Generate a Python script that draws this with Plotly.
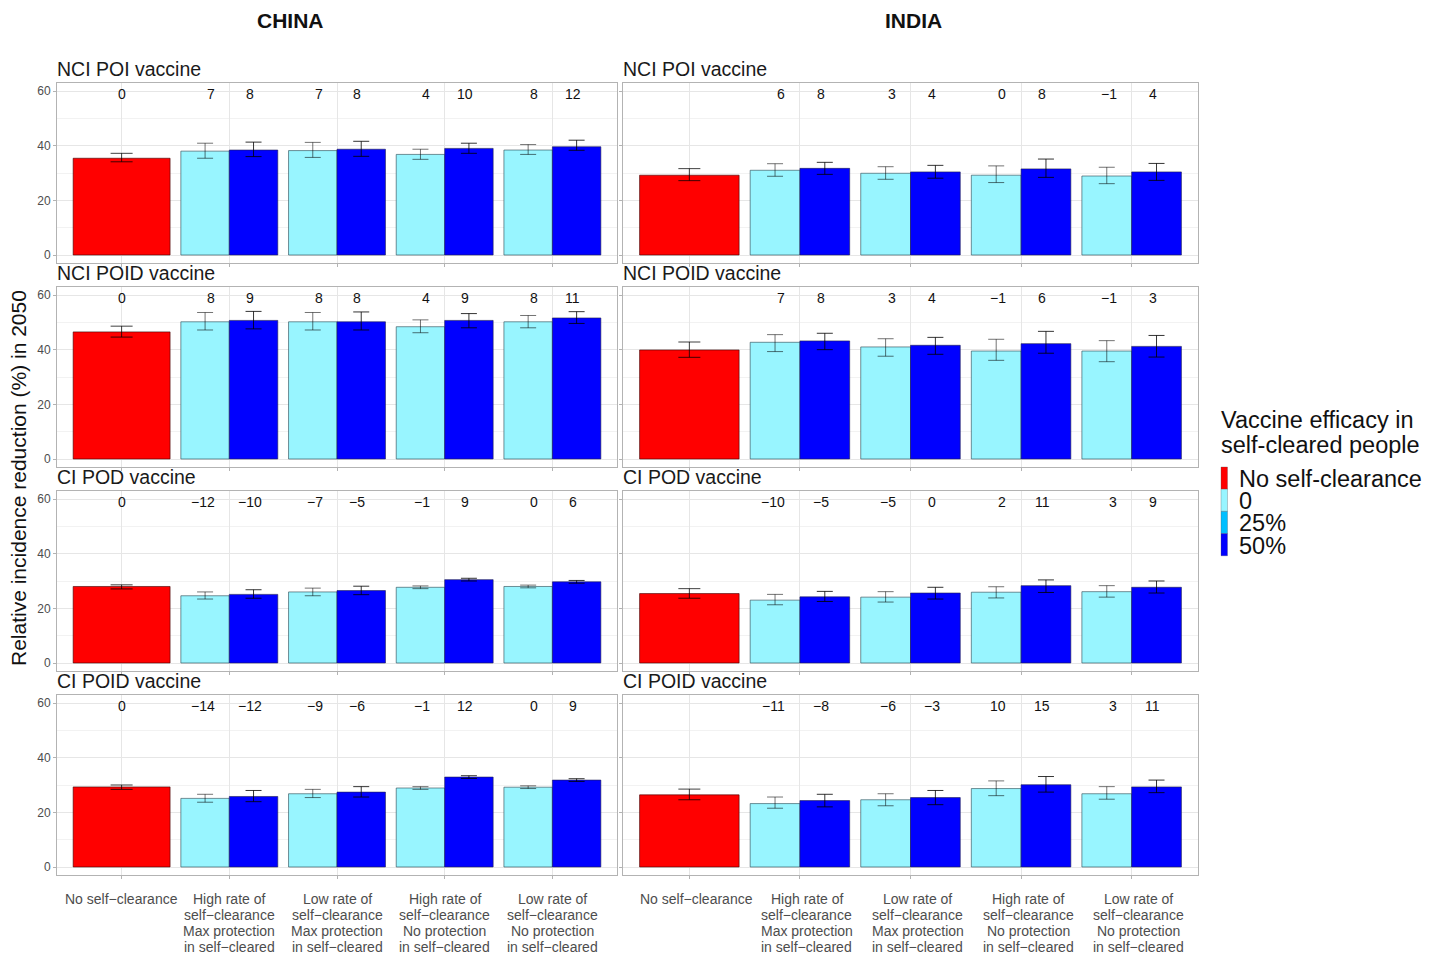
import plotly.graph_objects as go

# ---------------------------------------------------------------- data
countries = ["CHINA", "INDIA"]
vaccines = ["NCI POI vaccine", "NCI POID vaccine", "CI POD vaccine", "CI POID vaccine"]
scenarios = [
    ["No self−clearance"],
    ["High rate of", "self−clearance", "Max protection", "in self−cleared"],
    ["Low rate of", "self−clearance", "Max protection", "in self−cleared"],
    ["High rate of", "self−clearance", "No protection", "in self−cleared"],
    ["Low rate of", "self−clearance", "No protection", "in self−cleared"],
]
legend_title = ["Vaccine efficacy in", "self-cleared people"]
legend_labels = ["No self-clearance", "0", "25%", "50%"]
y_ticks = [0, 20, 40, 60]

# No self-clearance reference bars (one per vaccine row)
china_red = [35.4, 46.5, 28.0, 29.3]
china_red_lo = [34.1, 44.6, 27.1, 28.4]
china_red_hi = [37.2, 48.6, 28.6, 30.0]
india_red = [29.2, 39.9, 25.4, 26.4]
india_red_lo = [27.2, 37.2, 23.7, 24.6]
india_red_hi = [31.6, 42.8, 27.2, 28.5]

# Efficacy 0 in self-cleared people (four scenarios per vaccine row)
china_eff0 = [[38.0, 38.2, 36.8, 38.4], [50.2, 50.2, 48.4, 50.2],
              [24.6, 26.0, 27.7, 28.0], [25.1, 26.8, 28.9, 29.2]]
china_eff0_lo = [[35.4, 35.7, 35.0, 36.8], [47.2, 47.2, 46.2, 48.0],
                 [23.4, 24.6, 27.2, 27.5], [23.7, 25.4, 28.4, 28.7]]
china_eff0_hi = [[40.9, 41.2, 38.7, 40.4], [53.6, 53.6, 50.9, 52.5],
                 [26.0, 27.4, 28.2, 28.5], [26.6, 28.4, 29.4, 29.7]]
india_eff0 = [[31.0, 29.9, 29.2, 28.9], [42.7, 41.0, 39.5, 39.5],
              [23.0, 24.1, 25.9, 26.1], [23.2, 24.6, 28.7, 26.8]]
india_eff0_lo = [[28.8, 27.7, 26.5, 26.1], [39.3, 37.6, 36.1, 35.6],
                 [21.3, 22.3, 23.8, 24.1], [21.5, 22.4, 26.1, 24.8]]
india_eff0_hi = [[33.4, 32.3, 32.6, 32.1], [45.5, 44.0, 43.8, 43.3],
                 [25.1, 26.1, 27.9, 28.3], [25.6, 26.8, 31.5, 29.4]]

# Efficacy 50% in self-cleared people
china_eff50 = [[38.4, 38.7, 39.0, 39.6], [50.7, 50.2, 50.7, 51.6],
               [25.1, 26.5, 30.5, 29.7], [25.8, 27.4, 32.9, 31.8]]
china_eff50_lo = [[36.0, 36.1, 37.2, 38.3], [47.6, 47.2, 48.0, 49.6],
                  [23.7, 25.0, 30.0, 29.2], [23.9, 25.6, 32.4, 31.3]]
china_eff50_hi = [[41.3, 41.6, 40.9, 42.0], [54.0, 53.8, 53.2, 53.9],
                  [26.8, 28.1, 31.0, 30.2], [28.0, 29.4, 33.4, 32.3]]
india_eff50 = [[31.7, 30.4, 31.5, 30.4], [43.2, 41.6, 42.2, 41.2],
               [24.2, 25.6, 28.3, 27.7], [24.3, 25.4, 30.1, 29.3]]
india_eff50_lo = [[29.5, 28.1, 28.4, 27.3], [40.0, 38.3, 38.7, 37.3],
                  [22.5, 23.4, 25.8, 25.6], [22.0, 22.8, 27.4, 27.2]]
india_eff50_hi = [[33.9, 32.8, 35.1, 33.5], [46.0, 44.5, 46.7, 45.2],
                  [26.2, 27.7, 30.4, 30.0], [26.6, 28.0, 33.1, 31.8]]

# Percentage change versus no self-clearance, printed above the bars
china_red_label = "0"
india_red_label = ""
china_eff0_pct = [[7, 7, 4, 8], [8, 8, 4, 8], [-12, -7, -1, 0], [-14, -9, -1, 0]]
china_eff50_pct = [[8, 8, 10, 12], [9, 8, 9, 11], [-10, -5, 9, 6], [-12, -6, 12, 9]]
india_eff0_pct = [[6, 3, 0, -1], [7, 3, -1, -1], [-10, -5, 2, 3], [-11, -6, 10, 3]]
india_eff50_pct = [[8, 4, 8, 4], [8, 4, 6, 3], [-5, 0, 11, 9], [-8, -3, 15, 11]]

# ---------------------------------------------------------------- style
W, H = 1440, 956
FONT = "Liberation Sans, Arial, sans-serif"
RED, CYAN, MIDBLUE, BLUE = "#FF0000", "#98F5FF", "#00BFFF", "#0000FF"
GRID, MINOR, BORDER = "#e6e6e6", "#f2f2f2", "#b3b3b3"
TICKFONT = "#4d4d4d"
BAR_W = 0.9
HALF = BAR_W / 2
LABEL_Y = 59.0

col_px = [(57, 617), (623, 1198)]          # panel box left/right (px)
zero_px = [255, 459, 663, 867]             # pixel row of value 0 per vaccine row
unit_px = 164 / 60                         # pixels per percentage point
xlabel_shift = [0, 7]                      # scenario label nudge per column (px)


def fx(px):
    return px / W


def fy(py):
    return 1 - py / H


def pct_text(v):
    return str(v).replace("-", "−")


data = {
    "CHINA": dict(red=china_red, red_lo=china_red_lo, red_hi=china_red_hi,
                  e0=china_eff0, e0_lo=china_eff0_lo, e0_hi=china_eff0_hi,
                  e50=china_eff50, e50_lo=china_eff50_lo, e50_hi=china_eff50_hi,
                  red_label=china_red_label, p0=china_eff0_pct, p50=china_eff50_pct),
    "INDIA": dict(red=india_red, red_lo=india_red_lo, red_hi=india_red_hi,
                  e0=india_eff0, e0_lo=india_eff0_lo, e0_hi=india_eff0_hi,
                  e50=india_eff50, e50_lo=india_eff50_lo, e50_hi=india_eff50_hi,
                  red_label=india_red_label, p0=india_eff0_pct, p50=india_eff50_pct),
}

fig = go.Figure()
annotations = []
shapes = []
label_font = dict(family=FONT, size=14, color="#111111")


def err(vals, lo, hi, w, col):
    return dict(type="data", symmetric=False,
                array=[h - v for v, h in zip(vals, hi)],
                arrayminus=[v - l for v, l in zip(vals, lo)],
                color=col, thickness=1, width=w)


for r, vac in enumerate(vaccines):
    for c, country in enumerate(countries):
        n = r * 2 + c + 1
        xa = "x" if n == 1 else f"x{n}"
        ya = "y" if n == 1 else f"y{n}"
        d = data[country]
        groups = [2, 3, 4, 5]

        # no self-clearance bar
        fig.add_trace(go.Bar(
            x=[1], y=[d["red"][r]], width=[BAR_W], xaxis=xa, yaxis=ya,
            marker=dict(color=RED, line=dict(color="rgba(60,0,0,0.6)", width=1)),
            error_y=err([d["red"][r]], [d["red_lo"][r]], [d["red_hi"][r]], 11, "rgba(0,0,0,0.75)"),
            showlegend=False, hoverinfo="skip"))
        # efficacy 0 bars
        fig.add_trace(go.Bar(
            x=[g - HALF / 2 for g in groups], y=d["e0"][r], width=[HALF] * 4,
            xaxis=xa, yaxis=ya,
            marker=dict(color=CYAN, line=dict(color="rgba(40,70,80,0.6)", width=1)),
            error_y=err(d["e0"][r], d["e0_lo"][r], d["e0_hi"][r], 8, "rgba(0,0,0,0.55)"),
            showlegend=False, hoverinfo="skip"))
        # efficacy 50% bars
        fig.add_trace(go.Bar(
            x=[g + HALF / 2 for g in groups], y=d["e50"][r], width=[HALF] * 4,
            xaxis=xa, yaxis=ya,
            marker=dict(color=BLUE, line=dict(color="rgba(30,30,80,0.6)", width=1)),
            error_y=err(d["e50"][r], d["e50_lo"][r], d["e50_hi"][r], 8, "rgba(0,0,0,0.8)"),
            showlegend=False, hoverinfo="skip"))

        # percentage change labels
        if d["red_label"]:
            annotations.append(dict(
                text=d["red_label"], x=1, y=LABEL_Y, xref=xa, yref=ya,
                xanchor="center", yanchor="middle", showarrow=False, font=label_font))
        for g, v in zip(groups, d["p0"][r]):
            annotations.append(dict(
                text=pct_text(v), x=g - 0.115, y=LABEL_Y, xref=xa, yref=ya,
                xanchor="right", yanchor="middle", showarrow=False, font=label_font))
        for g, v in zip(groups, d["p50"][r]):
            annotations.append(dict(
                text=pct_text(v), x=g + 0.19, y=LABEL_Y, xref=xa, yref=ya,
                xanchor="center", yanchor="middle", showarrow=False, font=label_font))

        x0, x1 = col_px[c]
        z = zero_px[r]
        top_px = z - 63 * unit_px
        bot_px = z + 3 * unit_px
        fig.layout[("xaxis" if n == 1 else f"xaxis{n}")] = dict(
            domain=[fx(x0), fx(x1)], anchor=ya, range=[0.4, 5.6],
            tickvals=[1, 2, 3, 4, 5], showticklabels=False,
            ticks="outside", ticklen=3, tickcolor=BORDER,
            showgrid=True, gridcolor=GRID, gridwidth=1, zeroline=False,
            showline=True, linecolor=BORDER, linewidth=1, mirror=True)
        fig.layout[("yaxis" if n == 1 else f"yaxis{n}")] = dict(
            domain=[fy(bot_px), fy(top_px)], anchor=xa, range=[-3, 63],
            tickvals=y_ticks, showticklabels=(c == 0),
            tickfont=dict(family=FONT, size=12, color=TICKFONT),
            ticks="outside", ticklen=3, tickcolor=BORDER,
            showgrid=True, gridcolor=GRID, gridwidth=1, zeroline=False,
            minor=dict(tickvals=[10, 30, 50], showgrid=True, gridcolor=MINOR, gridwidth=1),
            showline=True, linecolor=BORDER, linewidth=1, mirror=True)

        # panel title
        annotations.append(dict(
            text=vac, x=fx(x0 - 2), y=fy(top_px - 1), xref="paper", yref="paper",
            xanchor="left", yanchor="bottom", showarrow=False,
            font=dict(family=FONT, size=19.5, color="#1a1a1a")))

        # scenario labels under the bottom row
        if r == len(vaccines) - 1:
            for gi, lines in enumerate(scenarios):
                for li, line in enumerate(lines):
                    annotations.append(dict(
                        text=line, x=gi + 1, y=fy(899 + 16 * li),
                        xref=xa, yref="paper", xanchor="center", yanchor="middle",
                        xshift=xlabel_shift[c], showarrow=False,
                        font=dict(family=FONT, size=14, color=TICKFONT)))

# country headers
for country, cx in zip(countries, [290, 913]):
    annotations.append(dict(
        text=f"<b>{country}</b>", x=fx(cx), y=fy(20), xref="paper", yref="paper",
        xanchor="center", yanchor="middle", showarrow=False,
        font=dict(family=FONT, size=21, color="#111111")))

# shared y-axis title
annotations.append(dict(
    text="Relative incidence reduction (%) in 2050", x=fx(18), y=fy(478),
    xref="paper", yref="paper", xanchor="center", yanchor="middle",
    textangle=-90, showarrow=False, font=dict(family=FONT, size=21, color="#111111")))

# legend
for i, line in enumerate(legend_title):
    annotations.append(dict(
        text=line, x=fx(1219), y=fy(420 + 25 * i), xref="paper", yref="paper",
        xanchor="left", yanchor="middle", showarrow=False,
        font=dict(family=FONT, size=23.5, color="#111111")))
for i, (lab, col) in enumerate(zip(legend_labels, [RED, CYAN, MIDBLUE, BLUE])):
    ky0 = 467 + 22.2 * i
    shapes.append(dict(
        type="rect", xref="paper", yref="paper",
        x0=fx(1221), x1=fx(1227.5), y0=fy(ky0 + 22.2), y1=fy(ky0),
        fillcolor=col, line=dict(color="rgba(80,80,80,0.5)", width=0.6)))
    annotations.append(dict(
        text=lab, x=fx(1237), y=fy(ky0 + 12), xref="paper", yref="paper",
        xanchor="left", yanchor="middle", showarrow=False, height=22,
        font=dict(family=FONT, size=23.5, color="#111111")))

fig.update_layout(
    width=W, height=H, margin=dict(l=0, r=0, t=0, b=0),
    paper_bgcolor="white", plot_bgcolor="white",
    barmode="overlay", showlegend=False,
    annotations=annotations, shapes=shapes,
    font=dict(family=FONT))

fig.write_html("out.html")
